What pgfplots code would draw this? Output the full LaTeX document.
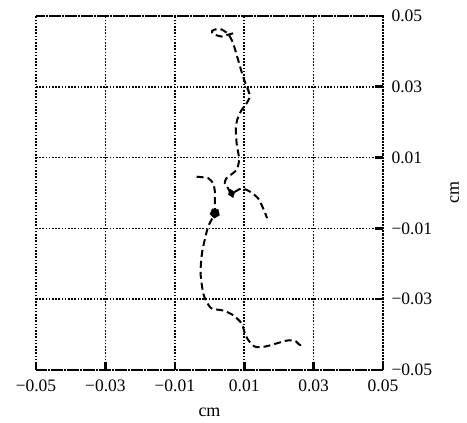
\documentclass[border=0pt]{standalone}
\usepackage{fontspec}
\setmainfont{Liberation Serif}
\usepackage{pgfplots}
\pgfplotsset{compat=1.18}

\pgfplotstableread{
x y
0.00681 0.0451
0.00491 0.0446
0.00347 0.0442
0.00105 0.0449
0.00076 0.0458
0.00203 0.0463
0.00347 0.0462
0.00491 0.0453
0.00586 0.0442
0.00681 0.0423
0.00825 0.0376
0.00923 0.0343
0.01018 0.0314
0.01113 0.0291
0.01162 0.0272
0.01067 0.0253
0.00923 0.0234
0.00796 0.0206
0.00759 0.0178
0.00787 0.0136
0.00854 0.0096
0.00779 0.0065
0.00491 0.0042
0.00442 0.0027
0.00537 0.0013
0.00635 -0.0001
0.00923 0.0013
0.01162 0.0004
0.01401 -0.0015
0.01545 -0.0043
0.01660 -0.0071
}\pathA

\pgfplotstableread{
x y
-0.00373 0.0046
-0.00039 0.0042
0.00105 0.0027
0.00154 0.0004
0.00154 -0.0029
0.00154 -0.0057
-0.00039 -0.0095
-0.00183 -0.0152
-0.00229 -0.0180
-0.00258 -0.0227
-0.00183 -0.0283
-0.00085 -0.0307
0.00059 -0.0326
0.00393 -0.0332
0.00681 -0.0345
0.00923 -0.0368
0.01018 -0.0396
0.01113 -0.0415
0.01306 -0.0434
0.01594 -0.0434
0.01931 -0.0425
0.02219 -0.0417
0.02458 -0.0417
0.02602 -0.0429
0.02746 -0.0425
}\pathB

\begin{document}
\begin{tikzpicture}
\begin{axis}[
    scale only axis,
    width=347pt, height=354pt,
    xmin=-0.05, xmax=0.05, ymin=-0.05, ymax=0.05,
    scaled ticks=false,
    xtick={-0.05,-0.03,-0.01,0.01,0.03,0.05},
    ytick={-0.05,-0.03,-0.01,0.01,0.03,0.05},
    xticklabels={−0.05,−0.03,−0.01,0.01,0.03,0.05},
    yticklabels={−0.05,−0.03,−0.01,0.01,0.03,0.05},
    xtick pos=bottom, ytick pos=right,
    yticklabel pos=right,
    tick align=inside,
    major tick length=8pt,
    tick style={line width=2.6pt, solid, black},
    grid=major,
    major grid style={line width=1.7pt, dash pattern=on 1.6pt off 1.6pt, black},
    axis line style={line width=1.7pt, dash pattern=on 1.6pt off 1.6pt, black},
    tick label style={font=\fontsize{17.5}{20}\selectfont},
    xticklabel style={yshift=-6pt},
    yticklabel style={xshift=5pt},
    xlabel={cm}, ylabel={cm},
    every axis x label/.style={at={(axis description cs:0.5,-0.121)}, anchor=center, font=\fontsize{18}{20}\selectfont},
    every axis y label/.style={at={(axis description cs:1.207,0.5)}, anchor=center, rotate=90, font=\fontsize{18}{20}\selectfont},
    clip=false,
]
\addplot[black, line width=2pt, dash pattern=on 7pt off 4pt, smooth, tension=0.4] table[x=x,y=y] {\pathA};
\addplot[black, line width=2pt, dash pattern=on 7pt off 4pt, smooth, tension=0.4] table[x=x,y=y] {\pathB};
\addplot[only marks, mark=diamond*, mark size=4.5pt, mark options={black, fill=black, solid, rotate=20}] coordinates {(0.00635,-0.0001)};
\addplot[only marks, mark=pentagon*, mark size=5pt, mark options={black, fill=black, solid, rotate=30}] coordinates {(0.00154,-0.0057)};
\end{axis}
\pgfresetboundingbox
\path ([shift={(-36pt,-53pt)}]current axis.south west) rectangle ([shift={(84pt,16pt)}]current axis.north east);
\end{tikzpicture}
\end{document}
